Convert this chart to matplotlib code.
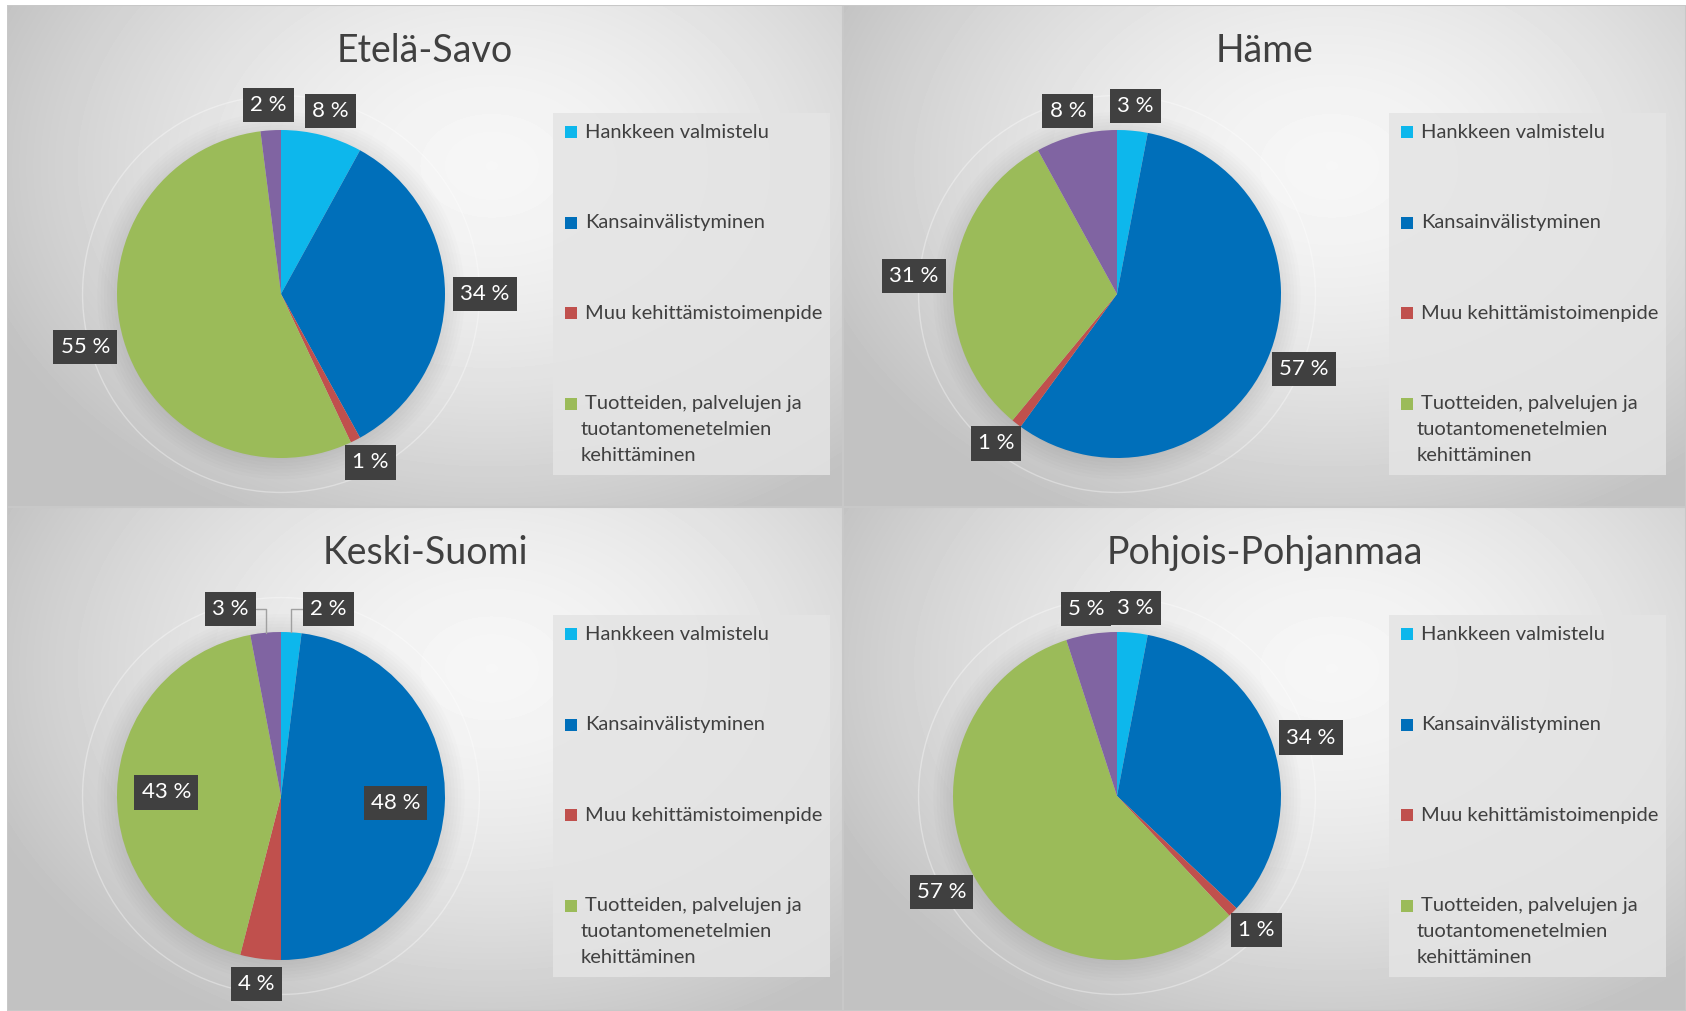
import numpy as np
import matplotlib.pyplot as plt
from matplotlib.patches import Rectangle, Circle

# data
regions = ["Etelä-Savo", "Häme", "Keski-Suomi", "Pohjois-Pohjanmaa"]
legend_labels = ["Hankkeen valmistelu", "Kansainvälistyminen", "Muu kehittämistoimenpide",
                 "Tuotteiden, palvelujen ja\ntuotantomenetelmien\nkehittäminen"]
etela_savo = [8, 34, 1, 55, 2]
hame = [3, 57, 1, 31, 8]
keski_suomi = [2, 48, 4, 43, 3]
pohjois_pohjanmaa = [3, 34, 1, 57, 5]
values = [etela_savo, hame, keski_suomi, pohjois_pohjanmaa]

colors = ["#0DB7EC", "#006FBA", "#C0504D", "#9BBB59", "#8064A2"]
TXT = "#404040"

W, H = 1686, 1011
fig = plt.figure(figsize=(W / 100, H / 100), dpi=100, facecolor="white")

# panel rectangles in pixels (x0, y0, x1, y1), y from top
panels = [(7, 5, 843, 507), (843, 5, 1686, 507), (7, 507, 843, 1011), (843, 507, 1686, 1011)]
R_PX = 164          # pie radius in px
PIE_OFF = (274, 289)  # pie centre relative to panel corner
LIM = 1.45

# label layout tweaks per panel: inside labels, leader-line labels
inside = {2: [1, 3]}
leaders = {2: {0: (0.29, 1.14), 4: (-0.31, 1.14)}}

label_font = ["Lato", "DejaVu Sans"]
title_font = ["Lato", "DejaVu Sans"]


def gradient(pw, ph):
    xx, yy = np.meshgrid(np.linspace(0, 1, pw), np.linspace(0, 1, ph))
    d = np.sqrt(((xx - 0.58) / 0.62) ** 2 + ((yy - 0.32) / 0.75) ** 2)
    v = 0.965 - 0.19 * np.clip(d, 0, 1.3) ** 1.6
    return np.clip(v, 0.76, 1)


items = []
for i, (x0, y0, x1, y1) in enumerate(panels):
    pw, ph = x1 - x0, y1 - y0
    bg = fig.add_axes([x0 / W, 1 - y1 / H, pw / W, ph / H])
    bg.set_xlim(0, pw)
    bg.set_ylim(ph, 0)
    bg.axis("off")
    bg.imshow(gradient(pw, ph), cmap="gray", vmin=0, vmax=1, extent=(0, pw, ph, 0),
              aspect="auto", zorder=0)
    bg.add_patch(Rectangle((0, 0), pw, ph, fill=False, ec="#c8c8c8", lw=1.5, zorder=1))

    bg.text(pw / 2, 46, regions[i], ha="center", va="center", fontsize=27,
            color=TXT, family=title_font)

    # legend box and entries
    bg.add_patch(Rectangle((546, 108), 277, 362, fc="#e4e4e4", ec="none", alpha=0.85, zorder=1))
    for k, lab in enumerate(legend_labels):
        yc = 127 + k * 90.5
        bg.add_patch(Rectangle((558, yc - 6), 12, 12, fc=colors[k], ec="none", zorder=2))
        for j, line in enumerate(lab.split("\n")):
            bg.text(578 if j == 0 else 574, yc + j * 26, line, ha="left", va="center",
                    fontsize=14.5, color=TXT, family=label_font, zorder=3)

    # pie
    cx, cy = x0 + PIE_OFF[0], y0 + PIE_OFF[1]
    S = 2 * LIM * R_PX
    ax = fig.add_axes([(cx - S / 2) / W, (H - cy - S / 2) / H, S / W, S / H])
    ax.axis("off")
    ax.patch.set_alpha(0)

    for k in np.linspace(1.0, 1.12, 7):
        ax.add_patch(Circle((0, -0.01), k, color="black", alpha=0.012, lw=0, zorder=0))
    ax.add_patch(Circle((0, 0), 1.21, fill=False, ec="white", lw=1, alpha=0.35, zorder=0))

    vals = values[i]
    wedges, _ = ax.pie(vals, colors=colors, startangle=90, counterclock=False,
                       radius=1, wedgeprops=dict(linewidth=0))
    ax.set_xlim(-LIM, LIM)
    ax.set_ylim(-LIM, LIM)
    ax.set_aspect("equal")

    for k, w in enumerate(wedges):
        th = np.deg2rad((w.theta1 + w.theta2) / 2)
        txt = f"{vals[k]} %"
        box = dict(boxstyle="square,pad=0.32", fc=TXT, ec="none")
        if k in leaders.get(i, {}):
            lx, ly = leaders[i][k]
            ax.annotate(txt, xy=(np.cos(th), np.sin(th)), xytext=(lx, ly),
                        ha="center", va="center", fontsize=16, color="white",
                        family=label_font, bbox=box, zorder=5,
                        arrowprops=dict(arrowstyle="-", color="#a0a0a0", lw=1,
                                        shrinkA=0, shrinkB=0,
                                        connectionstyle="angle,angleA=0,angleB=90,rad=0"))
            continue
        t = ax.text(0, 0, txt, ha="center", va="center", fontsize=16, color="white",
                    family=label_font, bbox=box, zorder=5)
        items.append((ax, t, th, k in inside.get(i, [])))

fig.canvas.draw()
rend = fig.canvas.get_renderer()
for ax, t, th, ins in items:
    c, s = np.cos(th), np.sin(th)
    if ins:
        t.set_position((0.7 * c, 0.7 * s))
        continue
    bb = t.get_bbox_patch().get_window_extent(rend)
    hw, hh = bb.width / 2 / R_PX, bb.height / 2 / R_PX
    g = 1 + 8 / R_PX
    t.set_position((g * c + hw * c, g * s + hh * s))

fig.savefig("out.png", dpi=100, facecolor="white")
